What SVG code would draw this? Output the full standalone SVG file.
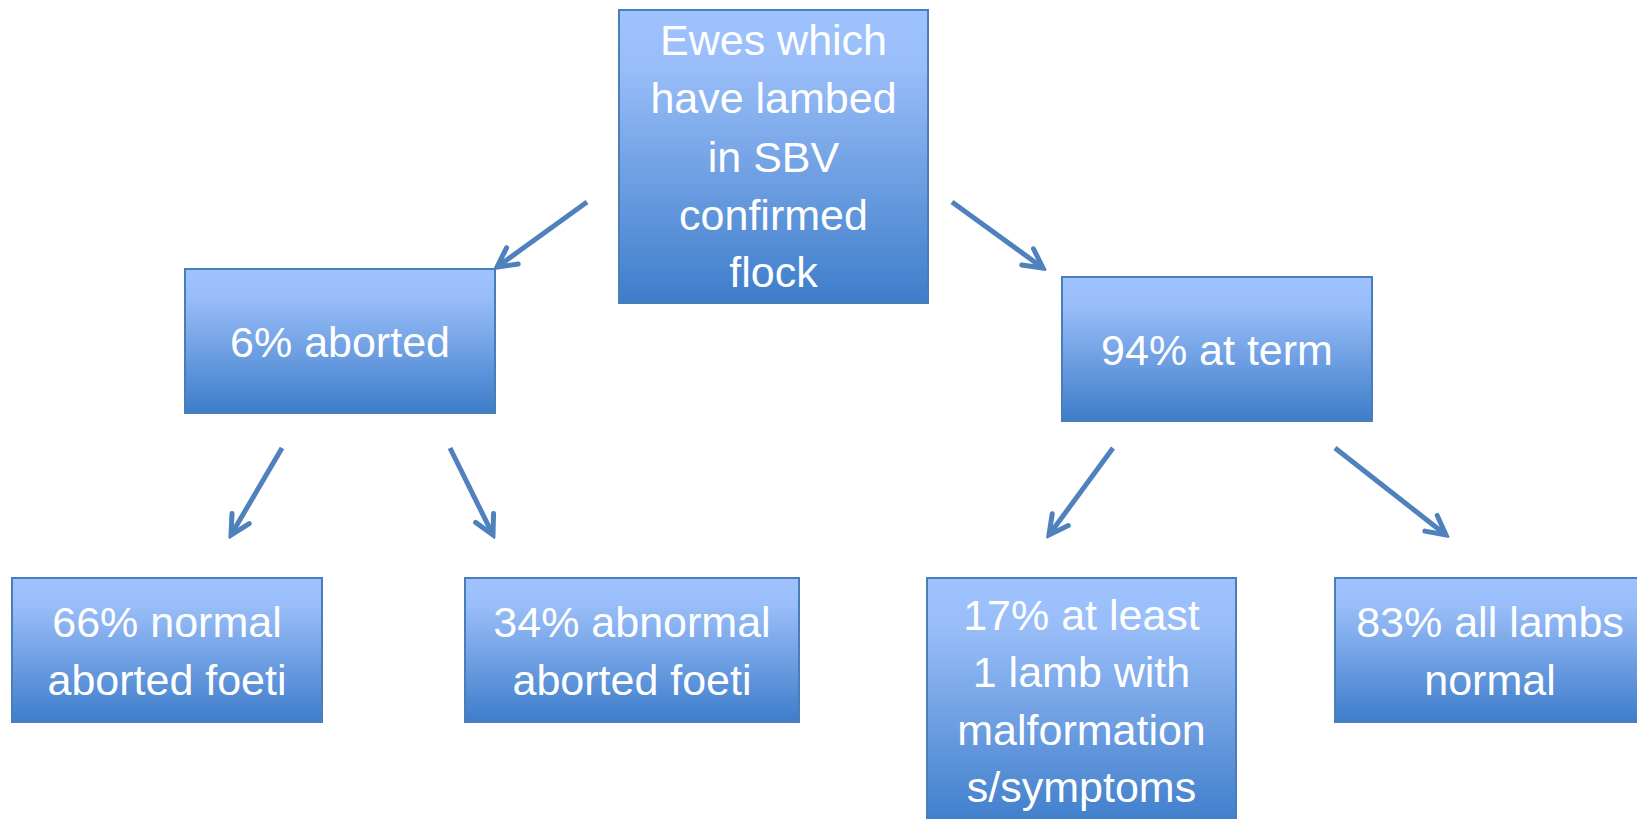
<svg xmlns="http://www.w3.org/2000/svg" width="1637" height="819" viewBox="0 0 1637 819">
<style>
.box{fill:url(#g);stroke:#4A7EBB;stroke-width:2}
.t{font-family:"Liberation Sans",Arial,sans-serif;font-size:43px;fill:#fff;text-anchor:middle}
.c{fill:none;stroke:#4F81BD;stroke-width:5;marker-end:url(#ah)}
</style>
<defs>
<linearGradient id="g" x1="0" y1="0" x2="0" y2="1">
<stop offset="0" stop-color="#9EC3FE"/>
<stop offset="0.2" stop-color="#98BDF8"/>
<stop offset="1" stop-color="#3E7DCA"/>
</linearGradient>
<marker id="ah" markerUnits="userSpaceOnUse" viewBox="-26 -16 30 32" refX="0" refY="0" markerWidth="30" markerHeight="32" orient="auto">
<path d="M-19,-10 L0,0 L-19,10" fill="none" stroke="#4F81BD" stroke-width="5" stroke-linecap="round" stroke-linejoin="miter"/>
</marker>
</defs>
<g id="connectors">
<line class="c" x1="587" y1="202" x2="497" y2="267"/>
<line class="c" x1="952" y1="202" x2="1043" y2="268"/>
<line class="c" x1="282" y1="448" x2="231" y2="535"/>
<line class="c" x1="450" y1="448" x2="493" y2="535"/>
<line class="c" x1="1113" y1="448" x2="1049" y2="535"/>
<line class="c" x1="1335" y1="448" x2="1446" y2="535"/>
</g>
<g id="root">
<rect class="box" x="619" y="10" width="309" height="293"/>
<text class="t" x="773.5" y="55">Ewes which</text>
<text class="t" x="773.5" y="113">have lambed</text>
<text class="t" x="773.5" y="172">in SBV</text>
<text class="t" x="773.5" y="230">confirmed</text>
<text class="t" x="773.5" y="287">flock</text>
</g>
<g id="aborted">
<rect class="box" x="185" y="269" width="310" height="144"/>
<text class="t" x="340" y="357">6% aborted</text>
</g>
<g id="term">
<rect class="box" x="1062" y="277" width="310" height="144"/>
<text class="t" x="1217" y="365">94% at term</text>
</g>
<g id="normal-foeti">
<rect class="box" x="12" y="578" width="310" height="144"/>
<text class="t" x="167" y="637">66% normal</text>
<text class="t" x="167" y="695">aborted foeti</text>
</g>
<g id="abnormal-foeti">
<rect class="box" x="465" y="578" width="334" height="144"/>
<text class="t" x="632" y="637">34% abnormal</text>
<text class="t" x="632" y="695">aborted foeti</text>
</g>
<g id="malformation">
<rect class="box" x="927" y="578" width="309" height="250"/>
<text class="t" x="1081.5" y="630">17% at least</text>
<text class="t" x="1081.5" y="687">1 lamb with</text>
<text class="t" x="1081.5" y="745">malformation</text>
<text class="t" x="1081.5" y="802">s/symptoms</text>
</g>
<g id="all-normal">
<rect class="box" x="1335" y="578" width="310" height="144"/>
<text class="t" x="1490" y="637">83% all lambs</text>
<text class="t" x="1490" y="695">normal</text>
</g>
</svg>
